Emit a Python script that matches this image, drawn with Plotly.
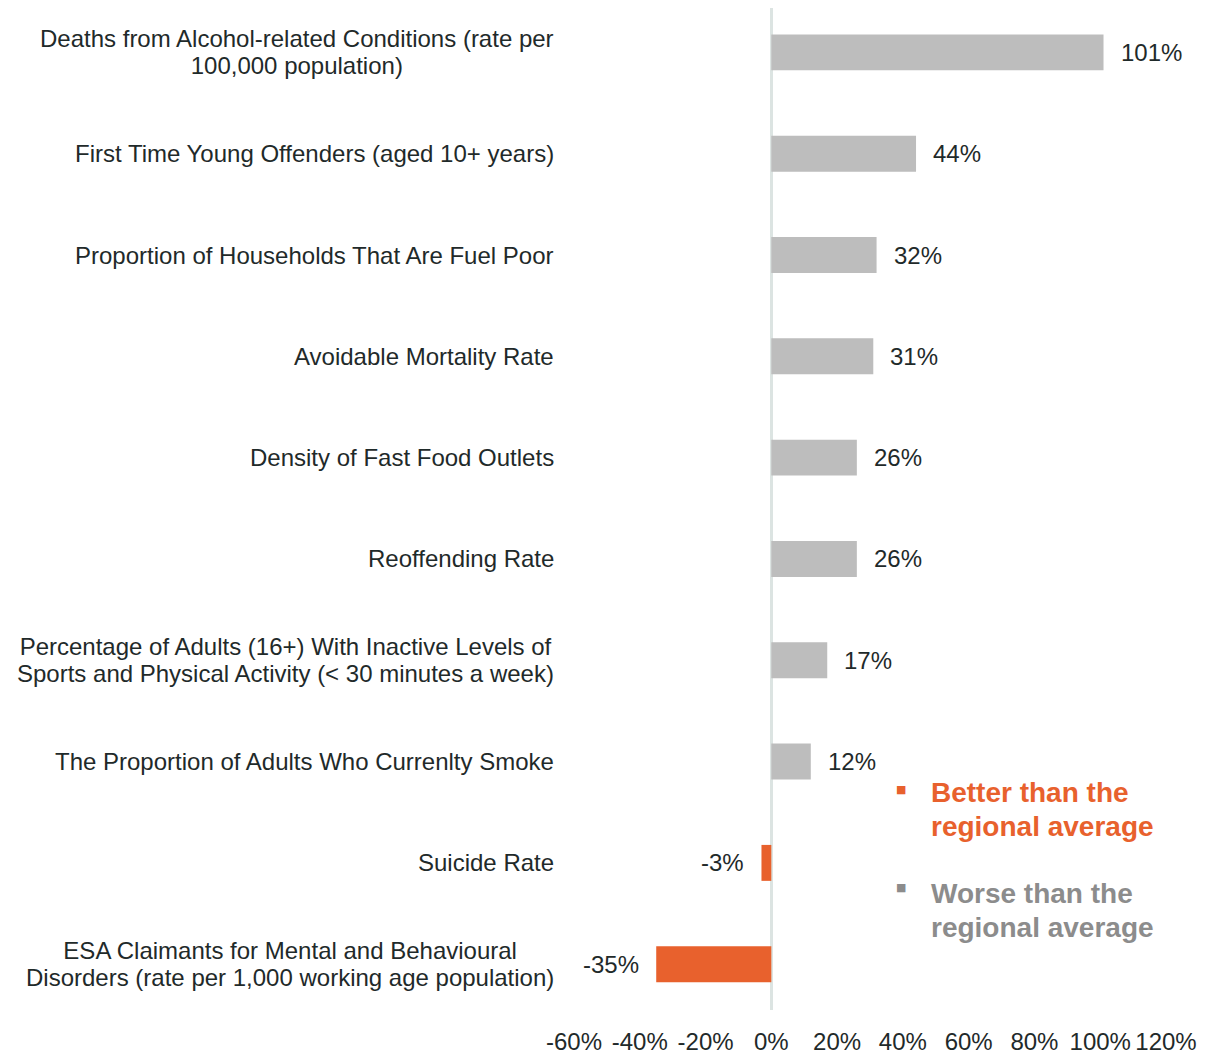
import plotly.graph_objects as go

categories = [
    "Deaths from Alcohol-related Conditions (rate per<br>100,000 population)",
    "First Time Young Offenders (aged 10+ years)",
    "Proportion of Households That Are Fuel Poor",
    "Avoidable Mortality Rate",
    "Density of Fast Food Outlets",
    "Reoffending Rate",
    "Percentage of Adults (16+) With Inactive Levels of<br>Sports and Physical Activity (< 30 minutes a week)",
    "The Proportion of Adults Who Currenlty Smoke",
    "Suicide Rate",
    "ESA Claimants for Mental and Behavioural<br>Disorders (rate per 1,000 working age population)",
]
values = [101, 44, 32, 31, 26, 26, 17, 12, -3, -35]
tick_vals = [-60, -40, -20, 0, 20, 40, 60, 80, 100, 120]
tick_text = ["-60%", "-40%", "-20%", "0%", "20%", "40%", "60%", "80%", "100%", "120%"]
legend_labels = ["Better than the<br>regional average", "Worse than the<br>regional average"]

ORANGE = "#E8612D"
GREY_BAR = "#BDBDBD"
GREY_TXT = "#8C8C8C"
TXT = "#1F2A2A"
FONT = "Liberation Sans, Arial, sans-serif"

colors = [ORANGE if v < 0 else GREY_BAR for v in values]

fig = go.Figure()
fig.add_trace(go.Bar(
    x=values, y=categories, orientation="h",
    marker=dict(color=colors, line=dict(width=0)),
    width=0.355, showlegend=False, hoverinfo="x+y",
))

# data labels
for c, v in zip(categories, values):
    fig.add_annotation(
        x=v, y=c, xref="x", yref="y", text=f"{v}%", showarrow=False,
        xanchor="left" if v >= 0 else "right", xshift=15 if v >= 0 else -15,
        font=dict(family=FONT, size=24, color=TXT),
    )

# category labels (centered multi-line, right-aligned block, tighter line spacing)
for c in categories:
    lines = c.split("<br>")
    txt = "<br>".join(f'<span style="font-size:24px">{ln}</span>' for ln in lines)
    fig.add_annotation(
        x=-60, y=c, xref="x", yref="y", text=txt, showarrow=False,
        xanchor="right", xshift=-18, align="center", yanchor="middle",
        font=dict(family=FONT, size=21, color=TXT),
    )

# legend
for lbl, col, ty, sy in [(legend_labels[0], ORANGE, 0.2001, 0.2204),
                         (legend_labels[1], GREY_TXT, 0.0998, 0.1221)]:
    fig.add_annotation(x=0.5524, y=sy, xref="paper", yref="paper", text="■",
                       showarrow=False, xanchor="center", yanchor="middle",
                       font=dict(family="DejaVu Sans", size=11, color=col))
    lines = lbl.split("<br>")
    txt = "<br>".join(f'<span style="font-size:28px"><b>{ln}</b></span>' for ln in lines)
    fig.add_annotation(x=0.600, y=ty, xref="paper", yref="paper", text=txt,
                       showarrow=False, xanchor="left", yanchor="middle", align="left",
                       font=dict(family=FONT, size=26, color=col))

fig.update_layout(
    width=1210, height=1047,
    margin=dict(l=566, r=52, t=0, b=40),
    paper_bgcolor="white", plot_bgcolor="white",
    font=dict(family=FONT, size=24, color=TXT),
    xaxis=dict(range=[-60, 120], tickvals=tick_vals, ticktext=tick_text,
               showgrid=False, zeroline=True, zerolinecolor="#DCE4E2", zerolinewidth=2.5,
               showline=False, ticks="", ticklabelstandoff=15,
               tickfont=dict(family=FONT, size=24, color=TXT)),
    yaxis=dict(range=[9.452, -0.438], showticklabels=False, showgrid=False,
               zeroline=False, showline=False, ticks=""),
)

fig.write_html("out.html")
